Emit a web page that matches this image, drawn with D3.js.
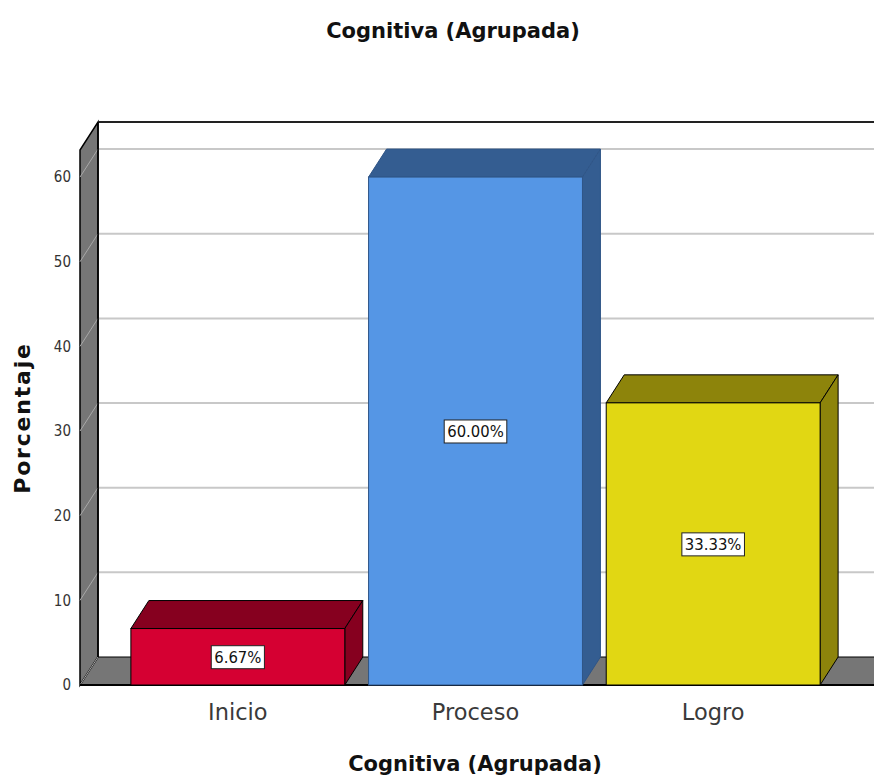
<!DOCTYPE html>
<html>
<head>
<meta charset="utf-8">
<script src="https://cdn.jsdelivr.net/npm/d3@7"></script>
<style>
  body { margin: 0; background: #fff; }
  text { font-family: "DejaVu Sans", sans-serif; }
</style>
</head>
<body>
<div id="chart"></div>
<script>
const categories = ['Inicio', 'Proceso', 'Logro'];
const values = [6.67, 60.0, 33.33];
const labels = ['6.67%', '60.00%', '33.33%'];
const frontColors = ['#d50032', '#5596e5', '#e1d713'];
const darkColors = ['#86001f', '#345d91', '#8d840b'];
const strokeColors = ['#000', '#2f5587', '#000'];
const yTicks = [0, 10, 20, 30, 40, 50, 60];

const width = 874;
const height = 776;
const depth = { x: 18, y: -28 };
const plot = { left: 80, right: 874, bottom: 685, top: 150 };

const svg = d3.select('#chart').append('svg')
  .attr('width', width)
  .attr('height', height);

const x = d3.scaleBand()
  .domain(categories)
  .range([119, 832])
  .paddingInner(0.1)
  .paddingOuter(0.05);

const y = d3.scaleLinear()
  .domain([0, 63.2])
  .range([plot.bottom, plot.top]);

const bx = plot.left + depth.x;
const by = (v) => y(v) + depth.y;

// floor
svg.append('path')
  .attr('d', `M${plot.left},${plot.bottom}L${bx},${by(0)}L${width + 20},${by(0)}L${width},${plot.bottom}Z`)
  .attr('fill', '#767676')
  .attr('stroke', '#000')
  .attr('stroke-width', 1);

// left wall
svg.append('path')
  .attr('d', `M${plot.left},${plot.bottom}L${plot.left},${y(63.2)}L${bx},${by(63.2)}L${bx},${by(0)}Z`)
  .attr('fill', '#767676')
  .attr('stroke', '#000')
  .attr('stroke-width', 1.5);

// gridlines on back wall and left wall
const grid = svg.append('g');
grid.selectAll('.back')
  .data(yTicks.filter((d) => d > 0))
  .enter()
  .append('line')
  .attr('x1', bx + 1)
  .attr('x2', width)
  .attr('y1', (d) => by(d))
  .attr('y2', (d) => by(d))
  .attr('stroke', '#c8c8c8')
  .attr('stroke-width', 2);

grid.selectAll('.side')
  .data(yTicks)
  .enter()
  .append('line')
  .attr('x1', plot.left)
  .attr('x2', bx)
  .attr('y1', (d) => y(d))
  .attr('y2', (d) => by(d))
  .attr('stroke', '#a8a8a8')
  .attr('stroke-width', 1);

// back wall edges
svg.append('line')
  .attr('x1', bx).attr('x2', width)
  .attr('y1', by(63.2)).attr('y2', by(63.2))
  .attr('stroke', '#222').attr('stroke-width', 2);
svg.append('line')
  .attr('x1', bx).attr('x2', bx)
  .attr('y1', by(63.2)).attr('y2', by(0))
  .attr('stroke', '#000').attr('stroke-width', 1.5);
svg.append('line')
  .attr('x1', plot.left).attr('x2', width)
  .attr('y1', plot.bottom).attr('y2', plot.bottom)
  .attr('stroke', '#000').attr('stroke-width', 2);

// y tick labels
svg.append('g')
  .selectAll('text')
  .data(yTicks)
  .enter()
  .append('text')
  .attr('x', plot.left - 9)
  .attr('y', (d) => y(d))
  .attr('dy', '0.35em')
  .attr('text-anchor', 'end')
  .style('font-family', '"DejaVu Sans Condensed", "DejaVu Sans", sans-serif')
  .style('font-size', '15px')
  .attr('fill', '#333')
  .text((d) => d);

// bars
const bars = svg.append('g')
  .selectAll('g')
  .data(values)
  .enter()
  .append('g');

const bw = x.bandwidth();

bars.append('path')
  .attr('d', (d, i) => {
    const x0 = x(categories[i]);
    const x1 = x0 + bw;
    return `M${x0},${y(d)}L${x0 + depth.x},${by(d)}L${x1 + depth.x},${by(d)}L${x1},${y(d)}Z`;
  })
  .attr('fill', (d, i) => darkColors[i])
  .attr('stroke', (d, i) => strokeColors[i])
  .attr('stroke-width', 1);

bars.append('path')
  .attr('d', (d, i) => {
    const x1 = x(categories[i]) + bw;
    return `M${x1},${y(0)}L${x1},${y(d)}L${x1 + depth.x},${by(d)}L${x1 + depth.x},${by(0)}Z`;
  })
  .attr('fill', (d, i) => darkColors[i])
  .attr('stroke', (d, i) => strokeColors[i])
  .attr('stroke-width', 1);

bars.append('rect')
  .attr('x', (d, i) => x(categories[i]))
  .attr('y', (d) => y(d))
  .attr('width', bw)
  .attr('height', (d) => y(0) - y(d))
  .attr('fill', (d, i) => frontColors[i])
  .attr('stroke', (d, i) => strokeColors[i])
  .attr('stroke-width', 1);

// value labels
const lab = bars.append('g')
  .attr('transform', (d, i) => `translate(${x(categories[i]) + bw / 2}, ${(y(0) + y(d)) / 2})`);

lab.append('text')
  .attr('text-anchor', 'middle')
  .attr('dy', '0.36em')
  .style('font-family', '"DejaVu Sans Condensed", "DejaVu Sans", sans-serif')
  .style('font-size', '16.5px')
  .attr('fill', '#111')
  .text((d, i) => labels[i]);

lab.each(function () {
  const g = d3.select(this);
  const bb = g.select('text').node().getBBox();
  g.insert('rect', 'text')
    .attr('x', bb.x - 3)
    .attr('y', bb.y - 2)
    .attr('width', bb.width + 6)
    .attr('height', bb.height + 4)
    .attr('fill', '#fff')
    .attr('stroke', '#222')
    .attr('stroke-width', 1);
});

// category labels
svg.append('g')
  .selectAll('text')
  .data(categories)
  .enter()
  .append('text')
  .attr('x', (d) => x(d) + bw / 2)
  .attr('y', 720)
  .attr('text-anchor', 'middle')
  .style('font-size', '22.5px')
  .attr('fill', '#3a3a3a')
  .text((d) => d);

// titles
svg.append('text')
  .attr('x', 453)
  .attr('y', 38)
  .attr('text-anchor', 'middle')
  .style('font-size', '21px')
  .style('font-weight', 'bold')
  .attr('fill', '#111')
  .text('Cognitiva (Agrupada)');

svg.append('text')
  .attr('x', 475)
  .attr('y', 771)
  .attr('text-anchor', 'middle')
  .style('font-size', '21px')
  .style('font-weight', 'bold')
  .attr('fill', '#111')
  .text('Cognitiva (Agrupada)');

svg.append('text')
  .attr('transform', 'translate(30, 418) rotate(-90)')
  .attr('text-anchor', 'middle')
  .style('font-size', '22px')
  .style('letter-spacing', '1.8px')
  .style('font-weight', 'bold')
  .attr('fill', '#111')
  .text('Porcentaje');
</script>
</body>
</html>
